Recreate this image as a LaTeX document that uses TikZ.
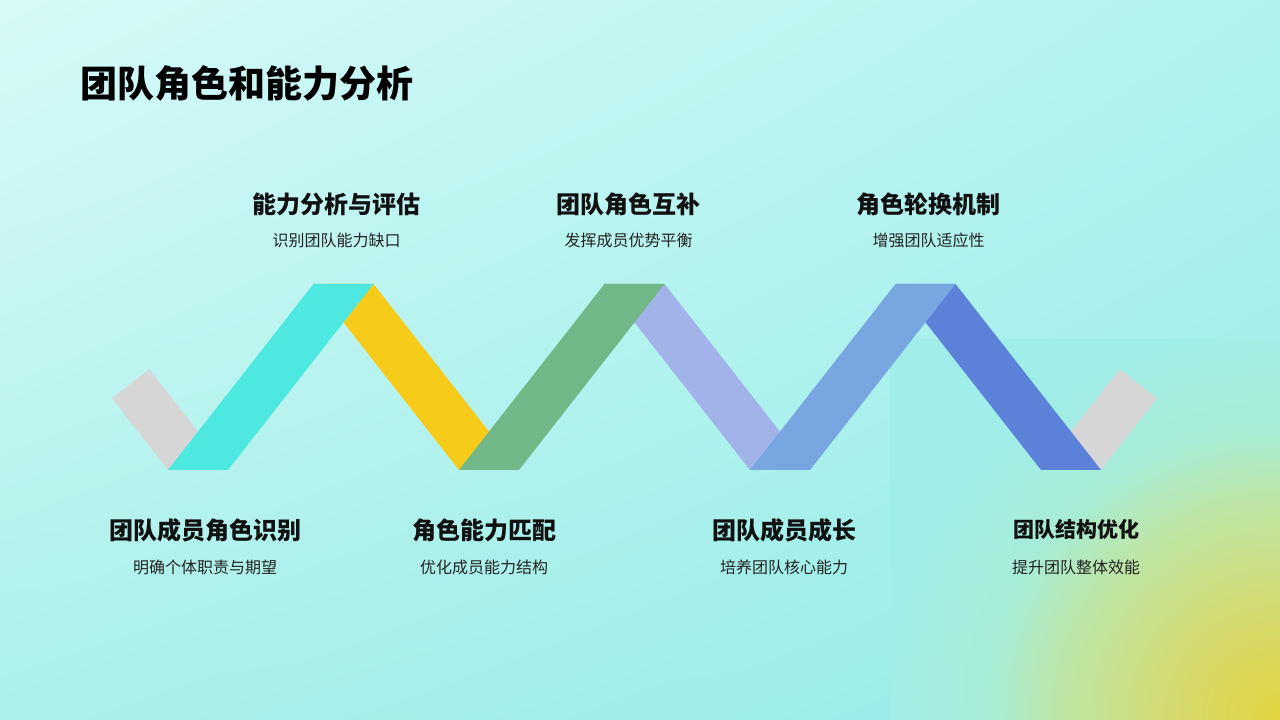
\documentclass[tikz,border=0pt]{standalone}
\usepackage{fontspec}
\usepackage{xcolor}
\usetikzlibrary{shadings}
\setmainfont{Noto Sans CJK SC}

\definecolor{bgtopleft}{HTML}{D6FAF8}
\definecolor{bgtopright}{HTML}{B2F2EE}
\definecolor{bgbottomleft}{HTML}{ACF0EA}
\definecolor{bgbottomright}{HTML}{94ECE8}
\definecolor{glowcore}{HTML}{E2D43E}
\definecolor{glowmid}{HTML}{D4DA70}
\definecolor{glowedge}{HTML}{BCE6A8}
\definecolor{glowfade}{HTML}{A8ECD6}
\definecolor{glowout}{HTML}{A0EEEA}
\definecolor{ribbongray}{HTML}{D6D6D6}
\definecolor{ribboncyan}{HTML}{4DE8DF}
\definecolor{ribbonyellow}{HTML}{F7CB1A}
\definecolor{ribbongreen}{HTML}{72B787}
\definecolor{ribbonlavender}{HTML}{A1B3E8}
\definecolor{ribbonsky}{HTML}{78A6E0}
\definecolor{ribbonblue}{HTML}{5B82D8}
\definecolor{headtext}{HTML}{111111}
\definecolor{notetext}{HTML}{222222}

\pgfdeclareradialshading{cornerglow}{\pgfpoint{0bp}{0bp}}{%
  color(0bp)=(glowcore); color(5bp)=(glowmid); color(10bp)=(glowedge);
  color(13bp)=(glowfade); color(18bp)=(glowout); color(50bp)=(glowout)}

\tikzset{
  stagetitle/.style={font=\bfseries\fontsize{24}{28}\selectfont, text=headtext, inner sep=0pt},
  stagenote/.style={font=\fontsize{16}{19}\selectfont, text=notetext, inner sep=0pt}
}

\begin{document}
\begin{tikzpicture}[x=1pt,y=1pt]
  \useasboundingbox (0,0) rectangle (1280,720);

  % Background with a soft corner glow
  \shade[upper left=bgtopleft, upper right=bgtopright,
         lower left=bgbottomleft, lower right=bgbottomright] (0,0) rectangle (1280,720);
  \begin{scope}
    \clip (890,0) rectangle (1280,380);
    \shade[shading=cornerglow] (1280,0) circle (560);
  \end{scope}

  % Grey ends of the ribbon
  \fill[ribbongray] (168,250) -- (228,250) -- (149.3,350.8) -- (112,321.7) -- cycle;
  \fill[ribbongray] (1041,250) -- (1101,250) -- (1157,321.7) -- (1119.7,350.8) -- cycle;

  % Falling strips
  \fill[ribbonyellow] (313.5,436) -- (373.5,436) -- (519,250) -- (459,250) -- cycle;
  \fill[ribbonlavender] (604.5,436) -- (664.5,436) -- (810,250) -- (750,250) -- cycle;
  \fill[ribbonblue] (895.5,436) -- (955.5,436) -- (1101,250) -- (1041,250) -- cycle;

  % Rising strips lie on top
  \fill[ribboncyan] (168,250) -- (228,250) -- (373.5,436) -- (313.5,436) -- cycle;
  \fill[ribbongreen] (459,250) -- (519,250) -- (664.5,436) -- (604.5,436) -- cycle;
  \fill[ribbonsky] (750,250) -- (810,250) -- (955.5,436) -- (895.5,436) -- cycle;

  % Title
  \node[anchor=west, inner sep=0pt, font=\bfseries\fontsize{37}{43}\selectfont] (title) at (80,637) {团队角色和能力分析};

  % Labels above the peaks
  \node[stagetitle] (peakA) at (336.5,516) {能力分析与评估};
  \node[stagenote] (peakAnote) at (336.5,480) {识别团队能力缺口};
  \node[stagetitle] (peakB) at (628.5,516) {团队角色互补};
  \node[stagenote] (peakBnote) at (628.5,480) {发挥成员优势平衡};
  \node[stagetitle] (peakC) at (928.5,516) {角色轮换机制};
  \node[stagenote] (peakCnote) at (928.5,480) {增强团队适应性};

  % Labels below the valleys
  \node[stagetitle] (valleyA) at (205,190) {团队成员角色识别};
  \node[stagenote] (valleyAnote) at (205,153) {明确个体职责与期望};
  \node[stagetitle] (valleyB) at (484,190) {角色能力匹配};
  \node[stagenote] (valleyBnote) at (484,153) {优化成员能力结构};
  \node[stagetitle] (valleyC) at (784,190) {团队成员成长};
  \node[stagenote] (valleyCnote) at (784,153) {培养团队核心能力};
  \node[stagetitle, font=\bfseries\fontsize{21}{25}\selectfont] (valleyD) at (1076,190) {团队结构优化};
  \node[stagenote] (valleyDnote) at (1076,153) {提升团队整体效能};
\end{tikzpicture}
\end{document}
